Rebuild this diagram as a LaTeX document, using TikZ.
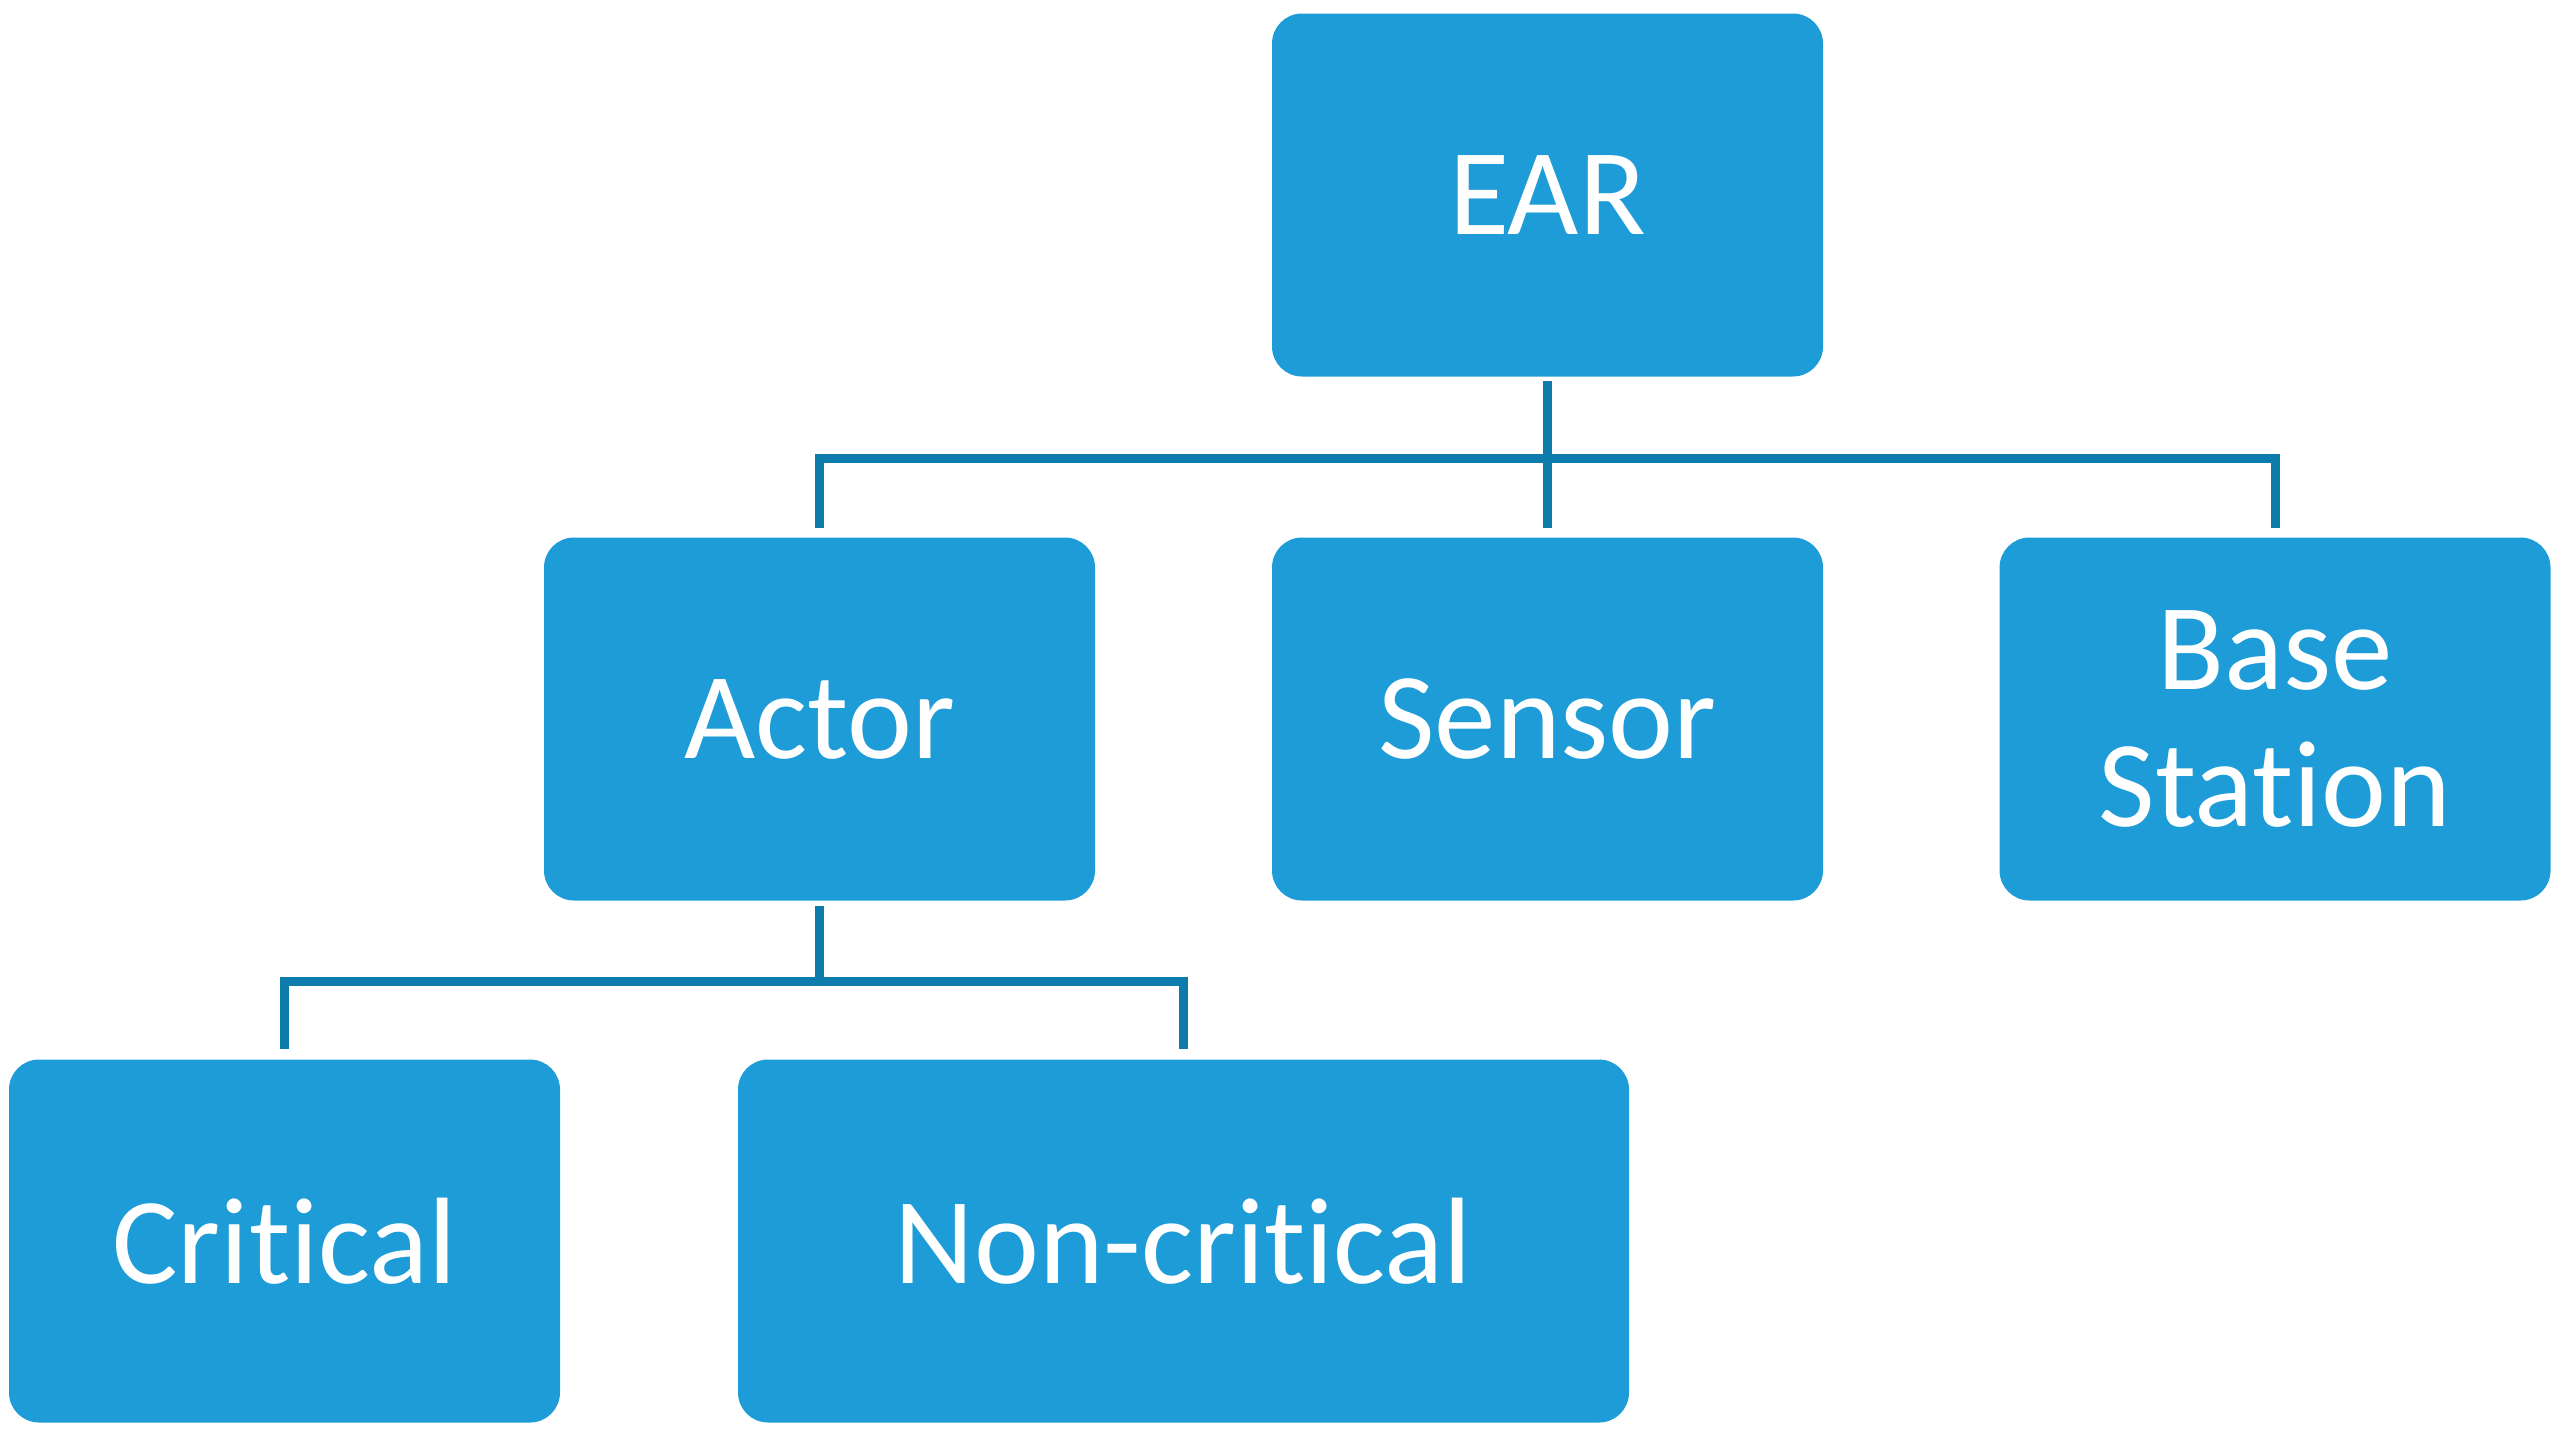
\documentclass[tikz,border=0pt]{standalone}
\usepackage{fontspec}
\setmainfont{Carlito}[Ligatures={NoCommon,NoContextual}]
\definecolor{boxblue}{RGB}{30,156,215}
\definecolor{lineblue}{RGB}{14,123,173}
\tikzset{
	box/.style={fill=boxblue, rounded corners=0.3cm, minimum width=5.51cm, minimum height=3.63cm, inner sep=0pt, text=white, align=center, font=\fontsize{35}{39}\selectfont},
	link/.style={draw=lineblue, line width=0.9mm}
}
\begin{document}
\begin{tikzpicture}
	
	\useasboundingbox (0,0) rectangle (25.70,-14.40);
	
	\node[box] (ear) at (15.475,-1.95) {EAR};
	\node[box] (actor) at (8.195,-7.19) {Actor};
	\node[box] (sensor) at (15.475,-7.19) {Sensor};
	\node[box] (base) at (22.75,-7.19) {Base\\Station};
	\node[box] (critical) at (2.845,-12.41) {Critical};
	\node[box, minimum width=8.91cm] (noncritical) at (11.835,-12.41) {Non-critical};
	
	\coordinate (bus1) at (15.475,-4.585);
	\coordinate (bus2) at (8.195,-9.815);
	
	\draw[link, shorten <=0.4mm, shorten >=0.9mm] (ear.south) -- (sensor.north);
	\draw[link, shorten <=0.9mm, shorten >=0.9mm] (actor.north) |- (bus1) -| (base.north);
	\draw[link, shorten <=0.5mm] (actor.south) -- (bus2);
	\draw[link, shorten <=1mm, shorten >=1mm] (critical.north) |- (bus2) -| (noncritical.north);
	\end{tikzpicture}
\end{document}
